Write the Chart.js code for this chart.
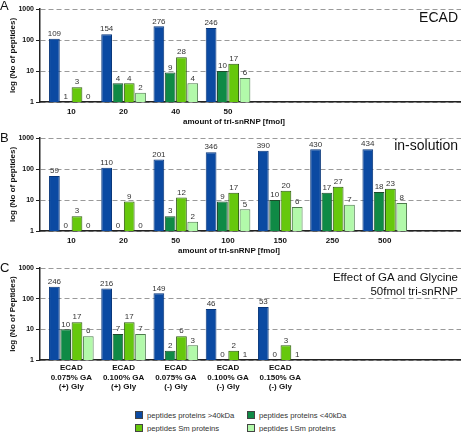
<!DOCTYPE html>
<html>
<head>
<meta charset="utf-8">
<script src="https://cdn.jsdelivr.net/npm/chart.js@4.4.1/dist/chart.umd.min.js"></script>
<style>
  body { margin:0; background:#fff; }
  #wrap { position:relative; width:461px; height:432px; overflow:hidden; background:#fff; font-family:"Liberation Sans", Arial, sans-serif; }
  canvas { position:absolute; left:0; }
  .t { position:absolute; white-space:nowrap; color:#111; }
  .letter { font-size:13px; line-height:14px; left:0; }
  .note { right:3px; text-align:right; }
  .xt { font-size:8px; font-weight:bold; line-height:10px; transform:translateX(-50%); }
  .lg { position:absolute; font-size:7.7px; line-height:10px; color:#333; white-space:nowrap; }
  .lg i { display:inline-block; width:8px; height:8px; border:1px solid #444; box-sizing:border-box; vertical-align:-1px; margin-right:4px; }
</style>
</head>
<body>
<div id="wrap">
  <canvas id="cA" width="461" height="131" style="top:0"></canvas>
  <canvas id="cB" width="461" height="131" style="top:129px"></canvas>
  <canvas id="cC" width="461" height="136" style="top:259px"></canvas>

  <div class="t letter" style="top:-1px">A</div>
  <div class="t letter" style="top:131px">B</div>
  <div class="t letter" style="top:261px">C</div>

  <div class="t note" style="top:9px;font-size:14px;line-height:16px">ECAD</div>
  <div class="t note" style="top:137px;font-size:14px;line-height:16px">in-solution</div>
  <div class="t note" style="top:270px;font-size:11.5px;line-height:14px">Effect of GA and Glycine<br>50fmol tri-snRNP</div>

  <div class="t xt" style="left:234px;top:117px">amount of tri-snRNP [fmol]</div>
  <div class="t xt" style="left:229px;top:246px">amount of tri-snRNP [fmol]</div>

  <div id="legend"></div>
</div>
<script>
// ---------- data ----------
const seriesNames = ['peptides proteins >40kDa', 'peptides proteins <40kDa', 'peptides Sm proteins', 'peptides LSm proteins'];
const yTickValues = [1, 10, 100, 1000];

// Panel A: ECAD
const catsA = ['10', '20', '40', '50'];
const aOver40 = [109, 154, 276, 246];
const aUnder40 = [1, 4, 9, 10];
const aSm = [3, 4, 28, 17];
const aLSm = [0, 2, 4, 6];

// Panel B: in-solution
const catsB = ['10', '20', '50', '100', '150', '250', '500'];
const bOver40 = [59, 110, 201, 346, 390, 430, 434];
const bUnder40 = [0, 0, 3, 9, 10, 17, 18];
const bSm = [3, 9, 12, 17, 20, 27, 23];
const bLSm = [0, 0, 2, 5, 6, 7, 8];

// Panel C: effect of GA and glycine
const catsC = [
  ['ECAD', '0.075% GA', '(+) Gly'],
  ['ECAD', '0.100% GA', '(+) Gly'],
  ['ECAD', '0.075% GA', '(-) Gly'],
  ['ECAD', '0.100% GA', '(-) Gly'],
  ['ECAD', '0.150% GA', '(-) Gly']
];
const cOver40 = [246, 216, 149, 46, 53];
const cUnder40 = [10, 7, 2, 0, 0];
const cSm = [17, 17, 6, 2, 3];
const cLSm = [6, 7, 3, 1, 1];

// ---------- styles ----------
const FONT = '"Liberation Sans", Arial, sans-serif';
const fills = ['#0b4aa2', '#0f8a45', '#66c80c', '#b2f9aa'];
const borders = ['#08367a', '#1d4a2a', '#2f5a12', '#4d7a4d'];

const valueLabels = {
  id: 'valueLabels',
  afterDatasetsDraw(chart) {
    const ctx = chart.ctx;
    ctx.save();
    ctx.font = '8px ' + FONT;
    ctx.fillStyle = '#333';
    ctx.textAlign = 'center';
    ctx.textBaseline = 'bottom';
    chart.data.datasets.forEach((ds, di) => {
      const meta = chart.getDatasetMeta(di);
      meta.data.forEach((el, i) => {
        ctx.fillText(String(ds.data[i].y), el.x, el.y - 1);
      });
    });
    ctx.restore();
  }
};

function makeChart(id, cats, series, yTitle, xHeight, labelPad, catFontSize) {
  const datasets = series.map((vals, si) => ({
    label: seriesNames[si],
    data: vals.map((v, i) => ({ x: i, y: v })),
    backgroundColor: fills[si],
    borderColor: borders[si],
    borderWidth: 1,
    categoryPercentage: 0.865,
    barPercentage: 0.95
  }));
  return new Chart(document.getElementById(id), {
    type: 'bar',
    data: { datasets },
    plugins: [valueLabels],
    options: {
      responsive: false,
      animation: false,
      devicePixelRatio: 1,
      layout: { padding: { top: 9, left: 0, right: 0, bottom: 0 } },
      plugins: { legend: { display: false }, tooltip: { enabled: false } },
      scales: {
        x: {
          type: 'linear',
          offset: false,
          min: -0.6,
          max: 7.46,
          grid: { display: false, drawTicks: false, offset: false },
          border: { display: true, color: '#222', width: 1.5 },
          afterBuildTicks: s => { s.ticks = cats.map((_, i) => ({ value: i })); },
          afterFit: s => { s.height = xHeight; },
          ticks: {
            autoSkip: false, maxRotation: 0, padding: labelPad, color: '#111',
            font: { family: FONT, size: catFontSize, weight: 'bold', lineHeight: 1.2 },
            callback: v => cats[v]
          }
        },
        y: {
          type: 'logarithmic',
          min: 1,
          max: 1000,
          afterBuildTicks: s => { s.ticks = yTickValues.map(v => ({ value: v })); },
          afterFit: s => { s.width = 40; },
          grid: { color: '#9a9a9a', tickColor: '#222', tickLength: 4, tickBorderDash: [] },
          border: { display: true, color: '#222', width: 1.5, dash: [5, 3] },
          ticks: {
            padding: 2, color: '#111',
            font: { family: FONT, size: 7, weight: 'bold' },
            callback: v => String(v)
          },
          title: {
            display: true, text: yTitle, color: '#111',
            padding: { top: 8, bottom: 0 },
            font: { family: FONT, size: 8, weight: 'bold' }
          }
        }
      }
    }
  });
}

makeChart('cA', catsA, [aOver40, aUnder40, aSm, aLSm], 'log (No of peptides)', 29, 5, 8);
makeChart('cB', catsB, [bOver40, bUnder40, bSm, bLSm], 'log (No of peptides)', 29, 5, 8);
makeChart('cC', catsC, [cOver40, cUnder40, cSm, cLSm], 'log (No of Peptides)', 35, 3, 8);

// ---------- legend (2 x 2 grid) ----------
const lgPos = [[135, 411], [247, 411], [135, 424], [247, 424]];
const lg = document.getElementById('legend');
seriesNames.forEach((name, i) => {
  const d = document.createElement('div');
  d.className = 'lg';
  d.style.left = lgPos[i][0] + 'px';
  d.style.top = lgPos[i][1] + 'px';
  const box = document.createElement('i');
  box.style.background = fills[i];
  d.appendChild(box);
  d.appendChild(document.createTextNode(name));
  lg.appendChild(d);
});
</script>
</body>
</html>
